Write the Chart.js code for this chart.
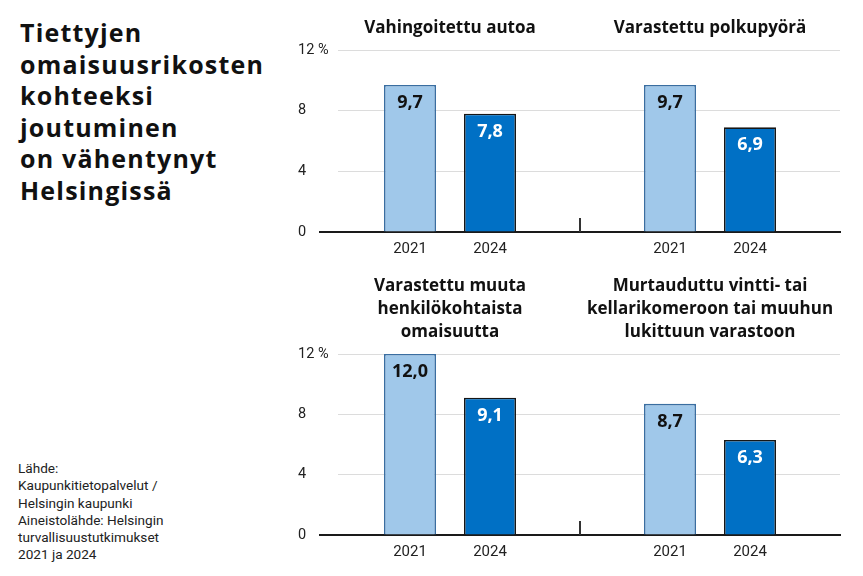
<!DOCTYPE html>
<html lang="fi">
<head>
<meta charset="UTF-8">
<title>Omaisuusrikosten kohteeksi joutuminen Helsingissä</title>
<script src="https://cdn.jsdelivr.net/npm/chart.js"></script>
<style>
  body { margin: 0; width: 863px; height: 576px; position: relative; background: #fff; overflow: hidden; font-family: Roboto, sans-serif; color: #111; }
  h1 { position: absolute; left: 20px; top: 17px; margin: 0; font: 700 25px/31.5px "Open Sans", sans-serif; letter-spacing: 1.2px; }
  .source { position: absolute; left: 18px; top: 460px; font-size: 13.6px; line-height: 17.3px; color: #222; }
  canvas { position: absolute; }
  #row1 { left: 298px; top: 0; }
  #row2 { left: 298px; top: 262px; }
</style>
</head>
<body>
<h1>Tiettyjen<br>omaisuusrikosten<br>kohteeksi<br>joutuminen<br>on vähentynyt<br>Helsingissä</h1>
<div class="source">Lähde:<br>Kaupunkitietopalvelut /<br>Helsingin kaupunki<br>Aineistolähde: Helsingin<br>turvallisuustutkimukset<br>2021 ja 2024</div>
<canvas id="row1" width="555" height="270"></canvas>
<canvas id="row2" width="555" height="314"></canvas>

<script>
// data
const panelTitles = [
  ['Vahingoitettu autoa'],
  ['Varastettu polkupyörä'],
  ['Varastettu muuta', 'henkilökohtaista', 'omaisuutta'],
  ['Murtauduttu vintti- tai', 'kellarikomeroon tai muuhun', 'lukittuun varastoon']
];
const years = ['2021', '2024'];
const values2021 = [9.7, 9.7, 12.0, 8.7];
const values2024 = [7.8, 6.9, 9.1, 6.3];
const yTicks = [0, 4, 8, 12];

const fmt = v => v.toFixed(1).replace('.', ',');

// value labels inside bars, year labels under bars, small tick between panels
const barText = {
  id: 'barText',
  afterDatasetsDraw(chart) {
    const ctx = chart.ctx;
    const xs = chart.scales.x, ys = chart.scales.y;
    const base = ys.getPixelForValue(0);
    ctx.save();
    ctx.textAlign = 'center';
    ctx.textBaseline = 'middle';
    chart.data.datasets.forEach((ds, di) => {
      chart.getDatasetMeta(di).data.forEach((bar, i) => {
        ctx.font = '700 18px "Open Sans"';
        ctx.fillStyle = ds.textColor;
        ctx.fillText(fmt(ds.data[i]), bar.x, bar.y + 18);
        ctx.font = '15px Roboto';
        ctx.fillStyle = '#222';
        ctx.fillText(ds.label, bar.x, base + 17);
      });
    });
    const sep = (xs.getPixelForValue(0) + xs.getPixelForValue(1)) / 2;
    ctx.strokeStyle = '#333';
    ctx.lineWidth = 2;
    ctx.beginPath();
    ctx.moveTo(sep, base);
    ctx.lineTo(sep, base - 14);
    ctx.stroke();
    ctx.restore();
  }
};

function makeRow(id, from, topH, bottomH) {
  const titles = panelTitles.slice(from, from + 2);
  new Chart(document.getElementById(id), {
    type: 'bar',
    data: {
      labels: titles.map(t => t.join(' ')),
      datasets: [{
        label: years[0],
        data: values2021.slice(from, from + 2),
        backgroundColor: '#a0c8ea',
        borderColor: '#3a6ea1',
        borderWidth: 1.6,
        textColor: '#111',
        xAxisID: 'x'
      }, {
        label: years[1],
        data: values2024.slice(from, from + 2),
        backgroundColor: '#0070c5',
        borderColor: '#161616',
        borderWidth: 1.6,
        textColor: '#fff',
        xAxisID: 'x'
      }]
    },
    options: {
      responsive: false,
      animation: false,
      categoryPercentage: 160 / 260,
      barPercentage: 0.65,
      layout: { padding: { left: 0, right: 13, top: 0, bottom: 0 } },
      plugins: { legend: { display: false }, tooltip: { enabled: false } },
      scales: {
        x: {
          type: 'category',
          offset: true,
          grid: { display: false },
          border: { color: '#1a1a1a', width: 2 },
          ticks: { display: false },
          afterFit(s) { s.height = bottomH; }
        },
        xTitle: {
          type: 'category',
          position: 'top',
          labels: titles,
          offset: true,
          grid: { display: false },
          border: { display: false },
          ticks: {
            color: '#111',
            padding: 2,
            maxRotation: 0,
            autoSkip: false,
            font: { family: 'Open Sans', weight: '700', size: 17, lineHeight: 1.35 }
          },
          afterFit(s) { s.height = topH; }
        },
        y: {
          min: yTicks[0],
          max: yTicks[yTicks.length - 1],
          afterBuildTicks(s) { s.ticks = yTicks.map(v => ({ value: v })); },
          grid: { color: '#dcdcdc', lineWidth: 1, drawTicks: false },
          border: { display: false, dash: [0, 18, 2000] },
          ticks: {
            color: '#222',
            mirror: true,
            crossAlign: 'near',
            padding: -22,
            font: { family: 'Roboto', size: 14.5 },
            callback: v => v === yTicks[yTicks.length - 1] ? v + ' %' : v
          },
          afterFit(s) { s.width = 22; }
        }
      }
    },
    plugins: [barText]
  });
}

makeRow('row1', 0, 50, 38);
makeRow('row2', 2, 92, 41);
</script>
</body>
</html>
